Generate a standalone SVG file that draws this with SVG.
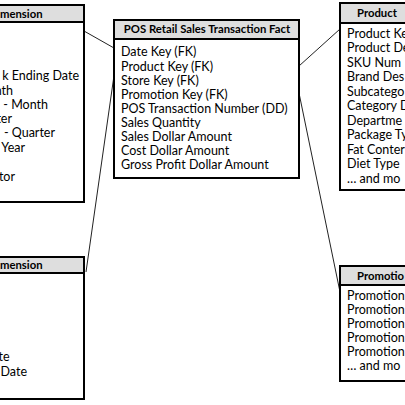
<svg xmlns="http://www.w3.org/2000/svg" width="405" height="405" viewBox="0 0 405 405">
<style>
.box{fill:#fff;stroke:#000;stroke-width:2}
.hdr{fill:#dedede;stroke:#000;stroke-width:2}
.t{font-family:Lato,"Open Sans",sans-serif;font-size:12.5px;fill:#000}
.h{font-family:Lato,"Open Sans",sans-serif;font-size:11.3px;font-weight:bold;fill:#000}
.e{text-anchor:end}
.c{stroke:#222;stroke-width:1;fill:none}
</style>
<rect width="405" height="405" fill="#fff"/>
<g id="connectors">
<line class="c" x1="84" y1="31" x2="114" y2="48"/>
<line class="c" x1="113.5" y1="79" x2="86" y2="272"/>
<line class="c" x1="299" y1="66" x2="340" y2="29"/>
<line class="c" x1="299" y1="93" x2="340" y2="292"/>
</g>
<g id="date-dimension">
<rect class="box" x="-10" y="5" width="94" height="197"/>
<rect class="hdr" x="-10" y="5" width="94" height="17"/>
<text class="h" x="0" y="18">mension</text>
<text class="t e" x="79" y="80">k Ending Date</text>
<text class="t e" x="13" y="95">nth</text>
<text class="t e" x="48" y="109">- Month</text>
<text class="t e" x="12" y="123">rter</text>
<text class="t e" x="55" y="137">- Quarter</text>
<text class="t e" x="25" y="152">Year</text>
<text class="t e" x="15" y="181">tor</text>
</g>
<g id="fact">
<rect class="box" x="114" y="20" width="185" height="158"/>
<rect class="hdr" x="114" y="20" width="185" height="19"/>
<text class="h" x="207" y="33" text-anchor="middle">POS Retail Sales Transaction Fact</text>
<text class="t" x="121" y="56">Date Key (FK)</text>
<text class="t" x="121" y="70.5">Product Key (FK)</text>
<text class="t" x="121" y="84.5">Store Key (FK)</text>
<text class="t" x="121" y="98.5">Promotion Key (FK)</text>
<text class="t" x="121" y="112.5">POS Transaction Number (DD)</text>
<text class="t" x="121" y="126.5">Sales Quantity</text>
<text class="t" x="121" y="140.5">Sales Dollar Amount</text>
<text class="t" x="121" y="154.5">Cost Dollar Amount</text>
<text class="t" x="121" y="168.5">Gross Profit Dollar Amount</text>
</g>
<g id="product-dimension">
<rect class="box" x="340" y="3" width="80" height="187"/>
<rect class="hdr" x="340" y="3" width="80" height="20"/>
<text class="h" x="357" y="17">Product</text>
<text class="t" x="347" y="37.5">Product Ke</text>
<text class="t" x="347" y="52">Product De</text>
<text class="t" x="347" y="66.5">SKU  Num</text>
<text class="t" x="347" y="81">Brand Des</text>
<text class="t" x="347" y="95.5">Subcatego</text>
<text class="t" x="347" y="110">Category D</text>
<text class="t" x="347" y="124.5">Departme</text>
<text class="t" x="347" y="139">Package Ty</text>
<text class="t" x="347" y="153.5">Fat Conter</text>
<text class="t" x="347" y="168">Diet Type</text>
<text class="t" x="347" y="183">… and mo</text>
</g>
<g id="store-dimension">
<rect class="box" x="-10" y="257" width="94" height="142"/>
<rect class="hdr" x="-10" y="257" width="94" height="16"/>
<text class="h" x="0" y="269">mension</text>
<text class="t e" x="9.5" y="361">te</text>
<text class="t e" x="27" y="376">Date</text>
</g>
<g id="promotion-dimension">
<rect class="box" x="340" y="266" width="80" height="115"/>
<rect class="hdr" x="340" y="266" width="80" height="19"/>
<text class="h" x="357" y="280">Promotio</text>
<text class="t" x="347" y="300">Promotion</text>
<text class="t" x="347" y="314">Promotion</text>
<text class="t" x="347" y="328">Promotion</text>
<text class="t" x="347" y="342">Promotion</text>
<text class="t" x="347" y="356">Promotion</text>
<text class="t" x="347" y="370">… and mo</text>
</g>
</svg>
